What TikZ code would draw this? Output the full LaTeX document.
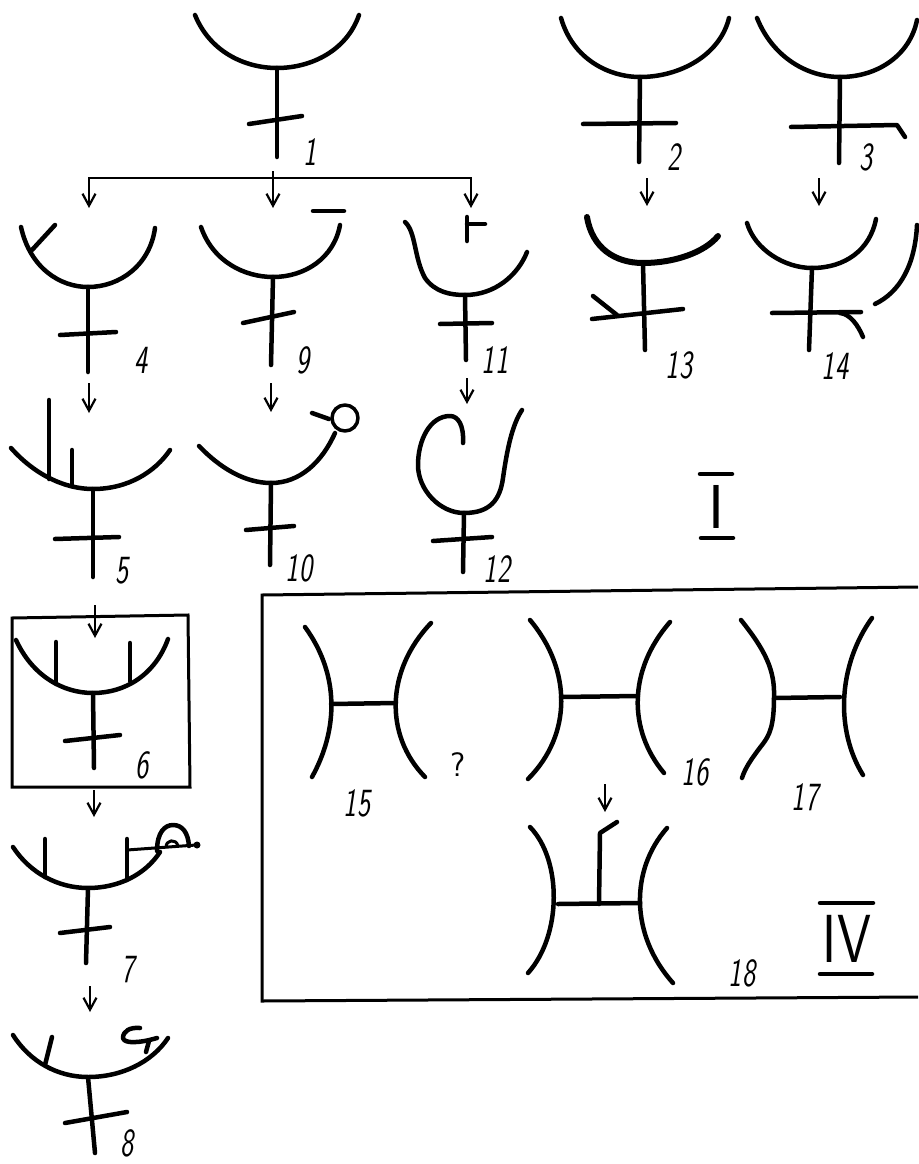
\documentclass[tikz,border=0pt]{standalone}
\usepackage{graphicx}
\usetikzlibrary{arrows.meta}
\newcommand{\nm}[1]{\scalebox{0.7}[1]{#1}}
\tikzset{
  gl/.style={line width=4.5pt, line cap=round, line join=round},
  thin/.style={line width=3pt, line cap=round, line join=round},
  frame/.style={line width=3pt, line join=miter},
  tip/.tip={Straight Barb[length=12pt,width=13pt,line width=2.2pt]},
  arr/.style={line width=2.2pt, -tip},
  lab/.style={font=\fontsize{40}{40}\selectfont\sffamily\slshape, inner sep=0pt},
  roman/.style={font=\fontsize{62}{62}\selectfont\sffamily, inner sep=0pt}
}
\begin{document}
\begin{tikzpicture}[x=1pt,y=-1pt]
\useasboundingbox (0,0) rectangle (918,1164);
\fill[white] (0,0) rectangle (918,1164);

% ---------- Glyph 1 ----------
\draw[gl] (195,15) .. controls (210,52) and (245,68) .. (277,68) .. controls (312,68) and (347,50) .. (359,15);
\draw[gl] (277,68) -- (277,157);
\draw[gl] (249,124) -- (302,116);
\node[lab] (l1) at (310,152) {\nm{1}};

% connectors from 1
\coordinate (h1) at (89,178);
\coordinate (h2) at (471,178);
\coordinate (e4) at (89,208);
\coordinate (e11) at (471,208);
\coordinate (m1) at (273,171);
\coordinate (e9) at (273,208);
\draw[line width=2.2pt, tip-tip] (e4) -- (h1) -- (h2) -- (e11);
\draw[arr] (m1) -- (e9);

% ---------- Glyph 4 ----------
\draw[gl] (21,227) .. controls (30,268) and (60,287) .. (88,287) .. controls (120,287) and (150,265) .. (155,228);
\draw[gl] (32,250) -- (55,225);
\draw[gl] (88,287) -- (88,372);
\draw[gl] (60,335) -- (116,332);
\node[lab] (l4) at (141,360) {\nm{4}};

% ---------- Glyph 9 ----------
\draw[gl] (201,227) .. controls (213,262) and (245,277) .. (273,277) .. controls (305,277) and (334,258) .. (340,225);
\draw[gl] (313,211) -- (344,211);
\draw[gl] (273,277) -- (271,365);
\draw[gl] (243,323) -- (294,312);
\node[lab] (l9) at (303,360) {\nm{9}};

% ---------- Glyph 11 ----------
\draw[gl] (405,222) .. controls (416,232) and (414,258) .. (425,278) .. controls (435,292) and (450,295) .. (465,295) .. controls (495,295) and (518,275) .. (527,252);
\draw[gl] (467,217) -- (467,241);
\draw[gl] (467,224) -- (485,224);
\draw[gl] (465,295) -- (466,360);
\draw[gl] (440,324) -- (492,323);
\node[lab] (l11) at (495,360) {\nm{11}};

% ---------- Glyph 2 ----------
\draw[gl] (561,18) .. controls (573,60) and (610,77) .. (640,77) .. controls (680,77) and (720,55) .. (729,18);
\draw[gl] (640,77) -- (639,162);
\draw[gl] (583,124) -- (676,123);
\node[lab] (l2) at (674,157) {\nm{2}};

% ---------- Glyph 3 ----------
\draw[gl] (757,18) .. controls (773,58) and (808,77) .. (840,77) .. controls (878,77) and (910,55) .. (917,20);
\draw[gl] (840,77) -- (839,163);
\draw[gl] (791,127) -- (897,125) -- (905,137);
\node[lab] (l3) at (866,157) {\nm{3}};

% arrows 2->13, 3->14
\coordinate (a2s) at (647,178); \coordinate (a2e) at (647,206);
\coordinate (a3s) at (819,178); \coordinate (a3e) at (819,206);
\draw[arr] (a2s) -- (a2e);
\draw[arr] (a3s) -- (a3e);

% ---------- Glyph 13 ----------
\draw[gl, line width=6pt] (587,217) .. controls (592,248) and (615,263) .. (643,263) .. controls (675,263) and (705,252) .. (718,236);
\draw[gl] (643,263) -- (645,350);
\draw[gl] (592,319) -- (683,309);
\draw[gl] (593,296) -- (617,315);
\node[lab] (l13) at (679,365) {\nm{13}};

% ---------- Glyph 14 ----------
\draw[gl] (747,223) .. controls (755,250) and (785,268) .. (812,268) .. controls (845,268) and (870,250) .. (876,219);
\draw[gl] (812,268) -- (809,350);
\draw[gl] (772,313) -- (861,312);
\draw[gl] (840,313) .. controls (850,314) and (858,325) .. (863,337);
\draw[gl] (917,225) .. controls (915,265) and (900,292) .. (875,304);
\node[lab] (l14) at (835,366) {\nm{14}};

% arrows 4->5, 9->10, 11->12
\coordinate (a4s) at (89,383); \coordinate (a4e) at (89,413);
\coordinate (a9s) at (271,383); \coordinate (a9e) at (271,412);
\coordinate (a11s) at (467,378); \coordinate (a11e) at (467,404);
\draw[arr] (a4s) -- (a4e);
\draw[arr] (a9s) -- (a9e);
\draw[arr] (a11s) -- (a11e);

% ---------- Glyph 5 ----------
\draw[gl] (11,448) .. controls (35,475) and (65,489) .. (93,489) .. controls (128,489) and (155,472) .. (170,450);
\draw[gl] (49,400) -- (49,479);
\draw[gl] (72,450) -- (72,486);
\draw[gl] (93,489) -- (93,577);
\draw[gl] (55,539) -- (119,537);
\node[lab] (l5) at (122,571) {\nm{5}};

% ---------- Glyph 10 ----------
\draw[gl] (199,446) .. controls (220,468) and (245,483) .. (271,483) .. controls (300,483) and (322,462) .. (335,433);
\draw[thin, line width=3.5pt] (345,418) circle (13);
\draw[gl] (312,413) -- (329,419);
\draw[gl] (271,483) -- (270,565);
\draw[gl] (246,530) -- (294,526);
\node[lab] (l10) at (299,568) {\nm{10}};

% ---------- Glyph 12 ----------
\draw[gl] (463,443) .. controls (464,425) and (458,416) .. (450,416) .. controls (430,416) and (418,440) .. (418,465) .. controls (418,490) and (440,513) .. (464,513) .. controls (490,513) and (500,500) .. (503,478) .. controls (507,450) and (512,425) .. (522,410);
\draw[gl] (464,513) -- (463,572);
\draw[gl] (433,541) -- (492,537);
\node[lab] (l12) at (497,569) {\nm{12}};

% ---------- Roman I ----------
\node[roman] (rI) at (717,507) {I};
\draw[gl] (700,474) -- (732,474);
\draw[gl] (701,538) -- (733,538);

% ---------- Glyph 6 (boxed) ----------
\draw[frame] (12,618) -- (188,615) -- (190,787) -- (12,787) -- cycle;
\coordinate (a5s) at (95,605); \coordinate (a5e) at (95,638);
\draw[arr] (a5s) -- (a5e);
\draw[gl] (16,640) .. controls (32,675) and (62,693) .. (93,693) .. controls (125,693) and (155,675) .. (168,639);
\draw[gl] (56,642) -- (56,684);
\draw[gl] (130,643) -- (130,681);
\draw[gl] (93,693) -- (94,768);
\draw[gl] (65,741) -- (120,735);
\node[lab] (l6) at (142,765) {\nm{6}};

\coordinate (a6s) at (94,790); \coordinate (a6e) at (94,817);
\draw[arr] (a6s) -- (a6e);

% ---------- Glyph 7 ----------
\draw[gl] (13,847) .. controls (30,873) and (58,888) .. (88,888) .. controls (118,888) and (145,875) .. (160,852);
\draw[gl] (45,839) -- (45,877);
\draw[gl] (127,839) -- (127,880);
\draw[thin] (127,850) -- (196,845);
\fill (197,845) circle (3.5);
\draw[gl] (157,851) .. controls (157,832) and (165,825) .. (173,825) .. controls (182,825) and (188,832) .. (189,846);
\draw[thin] (166,847) .. controls (166,840) and (176,838) .. (178,846);
\draw[gl] (88,888) -- (86,963);
\draw[gl] (60,933) -- (110,927);
\node[lab] (l7) at (128,970) {\nm{7}};

\coordinate (a7s) at (90,986); \coordinate (a7e) at (90,1012);
\draw[arr] (a7s) -- (a7e);

% ---------- Glyph 8 ----------
\draw[gl] (13,1035) .. controls (30,1062) and (58,1077) .. (88,1077) .. controls (122,1077) and (152,1062) .. (168,1038);
\draw[gl] (45,1065) -- (52,1037);
\draw[gl] (140,1028) .. controls (130,1027) and (123,1031) .. (123,1038) .. controls (124,1044) and (140,1043) .. (157,1038);
\draw[gl] (149,1041) -- (146,1052);
\draw[gl] (88,1077) -- (95,1153);
\draw[gl] (65,1123) -- (127,1112);
\node[lab] (l8) at (127,1143) {\nm{8}};

% ---------- Box IV ----------
\draw[frame] (918,587) -- (262,595) -- (262,1001) -- (918,997);

% Glyph 15
\draw[gl] (305,627) .. controls (340,675) and (338,730) .. (312,777);
\draw[gl] (431,623) .. controls (386,670) and (384,735) .. (425,777);
\draw[gl] (331,704) -- (396,703);
\node[lab] (l15) at (357,803) {\nm{15}};
\node[lab, font=\fontsize{34}{34}\selectfont\sffamily] (q) at (458,765) {?};

% Glyph 16
\draw[gl] (530,620) .. controls (572,670) and (572,735) .. (528,779);
\draw[gl] (670,622) .. controls (628,670) and (628,730) .. (664,773);
\draw[gl] (561,697) -- (638,696);
\node[lab] (l16) at (695,772) {\nm{16}};

% Glyph 17
\draw[gl] (741,620) .. controls (765,650) and (775,670) .. (774,697) .. controls (774,725) and (770,735) .. (762,745) .. controls (752,758) and (745,768) .. (742,778);
\draw[gl] (872,618) .. controls (838,665) and (835,730) .. (863,775);
\draw[gl] (774,698) -- (840,697);
\node[lab] (l17) at (805,797) {\nm{17}};

% arrow 16 -> 18
\coordinate (a16s) at (605,784); \coordinate (a16e) at (605,812);
\draw[arr] (a16s) -- (a16e);

% Glyph 18
\draw[gl] (530,827) .. controls (562,860) and (562,935) .. (528,973);
\draw[gl] (667,828) .. controls (630,870) and (630,935) .. (673,983);
\draw[gl] (558,904) -- (640,903);
\draw[gl] (599,904) -- (600,833) -- (617,822);
\node[lab] (l18) at (742,973) {\nm{18}};

% Roman IV
\node[roman, font=\fontsize{68}{68}\selectfont\sffamily] (rIV) at (847,939) {\scalebox{0.8}[1]{IV}};
\draw[gl] (820,903) -- (873,903);
\draw[gl] (820,974) -- (872,974);
\end{tikzpicture}
\end{document}
